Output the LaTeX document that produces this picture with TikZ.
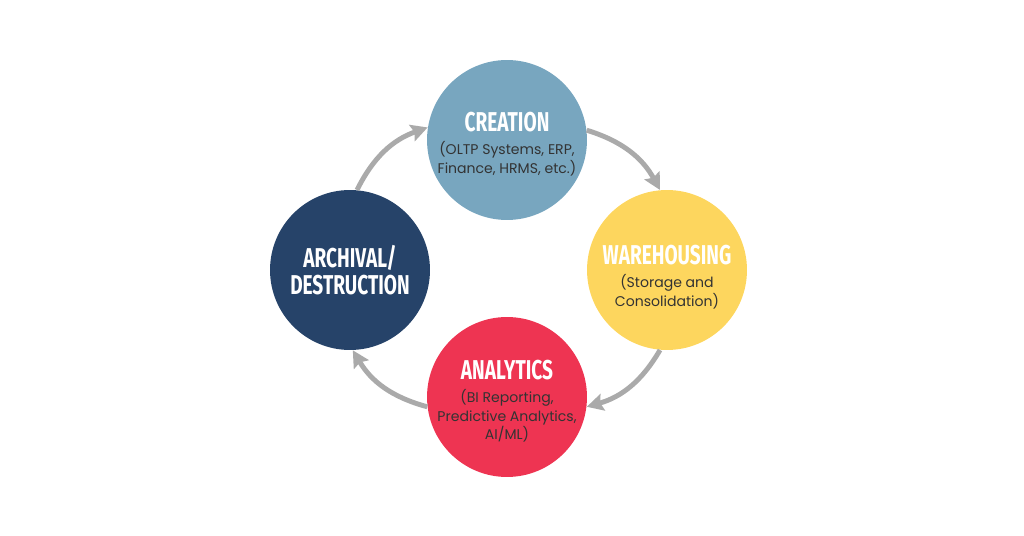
\documentclass[tikz,border=0pt]{standalone}
\usepackage{fontspec}
\setmainfont{Poppins}
\newfontfamily\headfont[FakeStretch=0.70]{Fira Sans}
\usetikzlibrary{positioning,arrows.meta}
\usepackage{xcolor}
\definecolor{creBlue}{HTML}{78A6BF}
\definecolor{wareYellow}{HTML}{FDD65E}
\definecolor{anaRed}{HTML}{EE3452}
\definecolor{arcNavy}{HTML}{264369}
\definecolor{arrowGrey}{HTML}{AAAAAA}
\definecolor{bodyGrey}{HTML}{333333}
\newcommand{\headOn}{\headfont\bfseries\fontsize{15.5}{15.5}\selectfont\color{white}}
\newcommand{\bodyOn}{\fontsize{8}{10.3}\selectfont}

\begin{document}
\begin{tikzpicture}[x=0.02cm, y=-0.02cm,
    circleStyle/.style={circle, minimum size=3.2cm, inner sep=0pt},
    labelStyle/.style={align=center, inner sep=0pt, font=\bodyOn, text=bodyGrey},
    arrowStyle/.style={-{Stealth[length=3.3mm, width=3.4mm, inset=0.5mm]}, line width=2.8pt, draw=arrowGrey}
]
    \useasboundingbox (0,0) rectangle (1024,536);

    \node[circleStyle, fill=creBlue] (cre) at (507,140) {};
    \node[circleStyle, fill=wareYellow] (ware) at (667,270) {};
    \node[circleStyle, fill=anaRed] (ana) at (507,397) {};
    \node[circleStyle, fill=arcNavy] (arch) at (350,270) {};

    \node[labelStyle] (creText) at ([yshift=-0.08cm]cre.center)
        {{\headOn CREATION}\\[3pt](OLTP Systems, ERP,\\Finance, HRMS, etc.)};
    \node[labelStyle] (wareText) at ([yshift=-0.14cm]ware.center)
        {{\headOn WAREHOUSING}\\[3pt](Storage and\\Consolidation)};
    \node[labelStyle] (anaText) at ([yshift=-0.08cm]ana.center)
        {{\headOn ANALYTICS}\\[3pt](BI Reporting,\\Predictive Analytics,\\AI/ML)};
    \node[labelStyle, font=\headOn, text=white] (archText) at (arch.center)
        {ARCHIVAL/\\DESTRUCTION};

    % curved grey arrows running clockwise round the cycle
    \draw[arrowStyle] (cre.7) to[bend left=22] (ware.95);
    \draw[arrowStyle] (ware.265) to[bend left=22] (ana.-7);
    \draw[arrowStyle] (ana.187) to[bend left=22] (arch.272);
    \draw[arrowStyle] (arch.85) to[bend left=22] (cre.171);
\end{tikzpicture}
\end{document}
